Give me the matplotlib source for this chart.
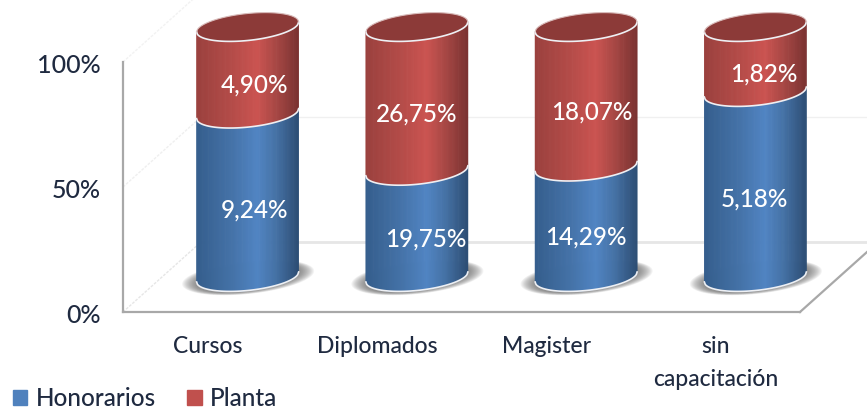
import numpy as np
import matplotlib
matplotlib.use("Agg")
import matplotlib.pyplot as plt
from matplotlib.collections import PolyCollection
from matplotlib.colors import LinearSegmentedColormap
from matplotlib.patches import Patch
from matplotlib.transforms import ScaledTranslation

categories = ["Cursos", "Diplomados", "Magister", "sin\ncapacitación"]
honorarios = [9.24, 19.75, 14.29, 5.18]
planta = [4.90, 26.75, 18.07, 1.82]
hon_labels = ["9,24%", "19,75%", "14,29%", "5,18%"]
pla_labels = ["4,90%", "26,75%", "18,07%", "1,82%"]
hon_dx = [7, 9, 0, -1]
pla_dx = [7, 0, 6, 8]

W, H = 867, 412
plt.rcParams["font.family"] = ["Lato", "DejaVu Sans"]
TXT = "#1f2a40"
fig = plt.figure(figsize=(W / 100, H / 100), dpi=100)
ax = fig.add_axes([123 / W, 1 - 312 / H, 677 / W, 250 / H])
ax.set_xlim(-0.5, 3.5)
ax.set_ylim(0, 100)
ux, uy = 677 / 4, 2.5     # px per data unit
for s in ("top", "right"):
    ax.spines[s].set_visible(False)
for s in ("left", "bottom"):
    ax.spines[s].set_color("#a8a8a8")
    ax.spines[s].set_linewidth(1.6)
ax.set_yticks([0, 50, 100], ["0%", "50%", "100%"], fontsize=18, color=TXT, fontweight="medium")
ax.set_xticks(range(4), categories, fontsize=16.5, color=TXT, linespacing=1.75, fontweight="medium")
ax.tick_params(length=0, pad=0)
ax.tick_params(axis="y", pad=16)
ax.tick_params(axis="x", pad=17)
for t in ax.get_yticklabels():
    t.set_transform(t.get_transform() + ScaledTranslation(0, -1.2 / 72, fig.dpi_scale_trans))

# 3-D wall and floor
wx, wy = 78 / ux, 70 / uy
x0, x1 = -0.5, 3.5
kw = dict(clip_on=False, zorder=1)
ax.plot([x0, x0 + wx], [0, wy], color="#e6e6e6", lw=1, ls=(0, (2, 1)), **kw)
ax.plot([x0, x0 + wx], [50, 50 + wy], color="#efefef", lw=1, ls=(0, (2, 1)), **kw)
ax.plot([x0, x0 + wx], [100, 100 + wy], color="#f2f2f2", lw=1, ls=(0, (2, 1)), **kw)
ax.plot([x0 + wx, x1 + wx], [wy, wy], color="#e6e6e6", lw=2, **kw)
ax.plot([x0 + wx, x1 + wx], [50 + wy, 50 + wy], color="#f0f0f0", lw=1, **kw)
ax.plot([x1, x1 + 67 / ux], [0, 60 / uy], color="#a8a8a8", lw=1.6, **kw)

# Cylinders
dx, dy = 40 / ux, 35 / uy
a, b, tilt = 51 / ux, 13.5 / uy, 2.0
stops = [0, 0.35, 0.6, 0.78, 1]
blue = LinearSegmentedColormap.from_list(
    "b", list(zip(stops, ["#345d8c", "#4472a8", "#5084c3", "#4572a6", "#2c4d74"])))
red = LinearSegmentedColormap.from_list(
    "r", list(zip(stops, ["#9a403d", "#b44b48", "#cb5350", "#a84744", "#7a3130"])))
us = np.linspace(-1, 1, 121)
ts = np.linspace(0, 2 * np.pi, 120)


def edge(cy, u, sign):
    return cy + sign * b * np.sqrt(np.clip(1 - u ** 2, 0, 1)) + tilt * u


def segment(cx, lo, hi, cmap, z):
    polys, cols = [], []
    for u0, u1 in zip(us[:-1], us[1:]):
        polys.append([(cx + a * u0, edge(lo, u0, -1)), (cx + a * u1, edge(lo, u1, -1)),
                      (cx + a * u1, edge(hi, u1, -1)), (cx + a * u0, edge(hi, u0, -1))])
        cols.append(cmap((u0 + u1 + 2) / 4))
    ax.add_collection(PolyCollection(polys, facecolors=cols, edgecolors=cols,
                                     linewidths=0.5, clip_on=False, zorder=z))
    ax.plot(cx + a * us, edge(lo, us, -1), color="#eef0f4", lw=1.2, clip_on=False, zorder=z + 0.1)


for i in range(4):
    cx = i + dx
    share = honorarios[i] / (honorarios[i] + planta[i]) * 100
    base, top, mid = dy, 100 + dy, share + dy
    for k in range(14):
        f = 1 - k / 14
        sa, sb = a + 15 / ux * f, b + 3 / uy * f
        shadow = np.c_[cx + 0.5 / ux + sa * np.cos(ts),
                       base - 0.5 / uy + sb * np.sin(ts) + tilt * 1.3 * np.cos(ts)]
        ax.add_patch(plt.Polygon(shadow, fc="#606060", ec="none", alpha=0.075, clip_on=False, zorder=2))
    segment(cx, base, mid, blue, 3)
    segment(cx, mid, top, red, 4)
    ell = np.c_[cx + a * np.cos(ts), top + b * np.sin(ts) + tilt * np.cos(ts)]
    ax.add_patch(plt.Polygon(ell, fc="#8c3a38", ec="none", clip_on=False, zorder=5))
    ax.plot(cx + a * us, edge(top, us, -1), color="#eef0f4", lw=1.2, clip_on=False, zorder=6)
    ax.plot(cx + a * us, edge(top, us, 1), color="#d9bcbb", lw=0.8, clip_on=False, zorder=6)
    lab = dict(ha="center", va="center", color="white", fontsize=17.5, fontweight="medium",
               textcoords="offset points", zorder=7, annotation_clip=False)
    ax.annotate(hon_labels[i], (cx, (base + mid) / 2 - 6), xytext=(hon_dx[i] * 0.72, 0), **lab)
    ax.annotate(pla_labels[i], (cx, (mid + top) / 2 - 6), xytext=(pla_dx[i] * 0.72, 0), **lab)

handles = [Patch(color="#4f81bd", label="Honorarios"), Patch(color="#c0504d", label="Planta")]
leg = fig.legend(handles=handles, loc="lower left", bbox_to_anchor=(8 / W, -3 / H), ncol=2, frameon=False,
                 fontsize=17.5, handlelength=0.58, handleheight=0.58, handletextpad=0.36,
                 columnspacing=1.3, labelcolor=TXT, borderpad=0.2, borderaxespad=0)
for t in leg.get_texts():
    t.set_fontweight("medium")

fig.savefig("out.png", dpi=100)
